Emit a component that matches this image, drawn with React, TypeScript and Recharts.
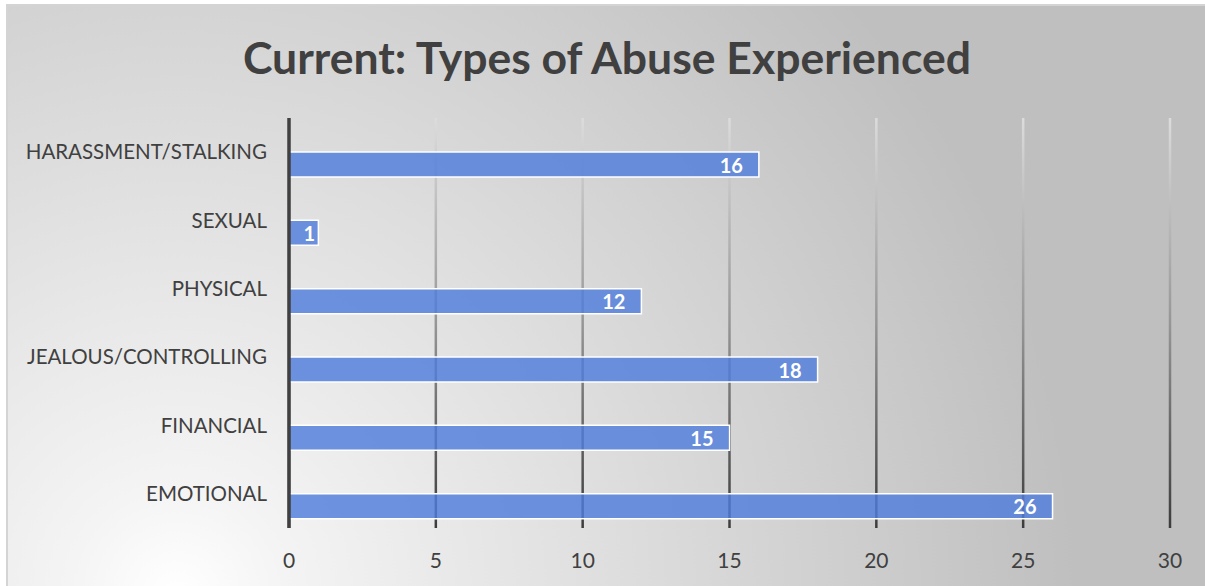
import React from 'react';
import { BarChart, Bar, XAxis, YAxis, CartesianGrid, LabelList, ReferenceLine } from 'recharts';

const categories = [
  'HARASSMENT/STALKING',
  'SEXUAL',
  'PHYSICAL',
  'JEALOUS/CONTROLLING',
  'FINANCIAL',
  'EMOTIONAL',
];
const currentCounts = [16, 1, 12, 18, 15, 26];
const xTicks = [0, 5, 10, 15, 20, 25, 30];

const data = categories.map((name, i) => ({ name, current: currentCounts[i] }));

const FONT = 'Lato, "Open Sans", sans-serif';

const ValueLabel = (props: any) => {
  const { x, y, width, height, value } = props;
  const pad = Math.min(16, Math.max(3, Number(width) - 26));
  return (
    <text
      x={Number(x) + Number(width) - pad}
      y={Number(y) + Number(height) / 2}
      textAnchor="end"
      dominantBaseline="central"
      fill="#ffffff"
      fontFamily={FONT}
      fontWeight={700}
      fontSize={20}
    >
      {value}
    </text>
  );
};

export default function App() {
  return (
    <div style={{ position: 'absolute', left: 0, top: 0, width: 1205, height: 586, background: '#ffffff', overflow: 'hidden' }}>
      <div
        style={{
          position: 'absolute',
          left: 6,
          top: 4,
          width: 1205,
          height: 590,
          borderLeft: '2px solid #d4d4d4',
          borderTop: '2px solid #d4d4d4',
          background: 'radial-gradient(circle 900px at 14% 100%, #ffffff 0%, #f4f4f4 12%, #bfbfbf 100%)',
        }}
      />
      <div style={{ position: 'absolute', left: 0, top: 0 }}>
        <BarChart
          width={1205}
          height={586}
          data={data}
          layout="vertical"
          margin={{ top: 118, right: 35, bottom: 28, left: 9 }}
          barSize={25}
          barGap={0}
        >
          <defs>
            <linearGradient id="gridGrad" gradientUnits="userSpaceOnUse" x1="0" y1="118" x2="0" y2="528">
              <stop offset="0" stopColor="#dcdcdc" />
              <stop offset="0.5" stopColor="#969696" />
              <stop offset="1" stopColor="#3c3c3c" />
            </linearGradient>
          </defs>
          <CartesianGrid horizontal={false} vertical stroke="url(#gridGrad)" strokeWidth={2.5} />
          <XAxis
            type="number"
            domain={[0, 30]}
            ticks={xTicks}
            axisLine={false}
            tickLine={false}
            tickSize={0}
            tickMargin={25}
            height={30}
            interval={0}
            tick={{ fill: '#404040', fontSize: 21, fontFamily: FONT }}
          />
          <YAxis
            type="category"
            dataKey="name"
            width={280}
            axisLine={false}
            tickLine={false}
            tickSize={0}
            tickMargin={22}
            interval={0}
            tick={{ fill: '#404040', fontSize: 20.5, fontFamily: FONT }}
          />
          {/* empty placeholder series (no values) occupying the upper slot of each category */}
          <Bar dataKey="previous" fill="transparent" isAnimationActive={false} />
          <Bar
            dataKey="current"
            fill="#4f7dda"
            fillOpacity={0.82}
            stroke="#ffffff"
            strokeWidth={1.5}
            isAnimationActive={false}
          >
            <LabelList dataKey="current" content={ValueLabel} />
          </Bar>
          <ReferenceLine x={0} stroke="#404040" strokeWidth={3.5} />
        </BarChart>
      </div>
      <svg width={1205} height={586} style={{ position: 'absolute', left: 0, top: 0, pointerEvents: 'none' }}>
        <text x={607} y={74} textAnchor="middle" fill="#404040" fontFamily={FONT} fontWeight={700} fontSize={44.5}>
          Current: Types of Abuse Experienced
        </text>
      </svg>
    </div>
  );
}
